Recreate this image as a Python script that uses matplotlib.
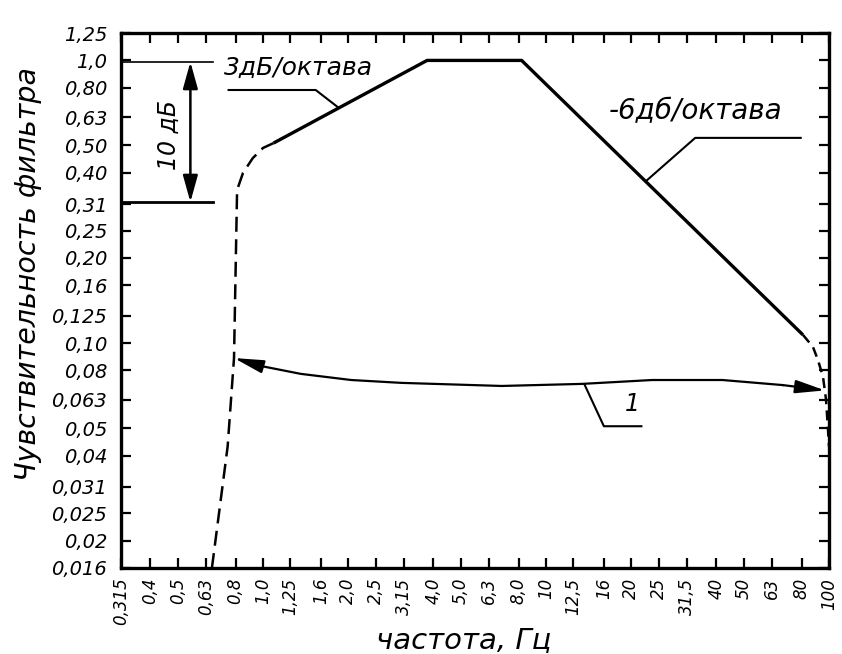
import matplotlib.pyplot as plt

plt.rcParams['font.family'] = ['DejaVu Sans']

# axis ticks (third-octave nominal values)
x_ticks = [0.315, 0.4, 0.5, 0.63, 0.8, 1.0, 1.25, 1.6, 2.0, 2.5, 3.15, 4.0, 5.0,
           6.3, 8.0, 10, 12.5, 16, 20, 25, 31.5, 40, 50, 63, 80, 100]
x_labels = ["0,315", "0,4", "0,5", "0,63", "0,8", "1,0", "1,25", "1,6", "2,0", "2,5",
            "3,15", "4,0", "5,0", "6,3", "8,0", "10", "12,5", "16", "20", "25",
            "31,5", "40", "50", "63", "80", "100"]
y_ticks = [1.25, 1.0, 0.80, 0.63, 0.50, 0.40, 0.31, 0.25, 0.20, 0.16, 0.125, 0.10,
           0.08, 0.063, 0.05, 0.04, 0.031, 0.025, 0.02, 0.016]
y_labels = ["1,25", "1,0", "0,80", "0,63", "0,50", "0,40", "0,31", "0,25", "0,20",
            "0,16", "0,125", "0,10", "0,08", "0,063", "0,05", "0,04", "0,031",
            "0,025", "0,02", "0,016"]

# filter sensitivity: solid part (3 dB/oct up, flat 4-8 Hz, -6 dB/oct down)
main_f = [1.09, 3.8, 8.2, 80.8]
main_s = [0.51, 1.0, 1.0, 0.107]

# dashed low-frequency cut-off
low_f = [0.66, 0.75, 0.79, 0.81, 0.85, 0.92, 1.0, 1.09]
low_s = [0.016, 0.043, 0.0885, 0.348, 0.40, 0.451, 0.49, 0.51]

# dashed high-frequency cut-off
high_f = [80.8, 87.7, 91.4, 95.2, 97.6, 99.2, 100]
high_s = [0.107, 0.097, 0.087, 0.076, 0.063, 0.049, 0.043]

# curve 1
c1_f = [0.79, 0.98, 1.36, 2.05, 3.08, 6.97, 13.4, 23.7, 42, 68.7, 96.8]
c1_s = [0.0885, 0.083, 0.0778, 0.074, 0.0723, 0.0705, 0.0717, 0.074, 0.074, 0.071, 0.068]

fig = plt.figure(figsize=(8.42, 6.54), dpi=100)
ax = fig.add_axes([0.1437, 0.1315, 0.8409, 0.818])

ax.set_xscale('log')
ax.set_yscale('log')
ax.set_xlim(0.315, 100)
ax.set_ylim(0.016, 1.25)

ax.plot(main_f, main_s, color='k', lw=2.4, solid_capstyle='butt')
ax.plot(low_f, low_s, color='k', lw=1.8, dashes=(6, 3))
ax.plot(high_f, high_s, color='k', lw=1.8, dashes=(4, 2.5))
ax.plot(c1_f[1:-1], c1_s[1:-1], color='k', lw=1.6)

# arrows at both ends of curve 1
arr = dict(arrowstyle='-|>,head_length=0.9,head_width=0.2', mutation_scale=20,
           color='k', lw=1.6, shrinkA=0, shrinkB=0)
ax.annotate('', xy=(c1_f[0], c1_s[0]), xytext=(c1_f[1], c1_s[1]), arrowprops=arr)
ax.annotate('', xy=(c1_f[-1], c1_s[-1]), xytext=(c1_f[-2], c1_s[-2]), arrowprops=arr)

ax.set_xticks(x_ticks)
ax.set_xticklabels(x_labels, rotation=90, fontsize=12, style='italic')
ax.set_yticks(y_ticks)
ax.set_yticklabels(y_labels, fontsize=14, style='italic')
ax.minorticks_off()
ax.tick_params(direction='in', length=7, width=1.6, top=True, right=True, pad=7)
ax.tick_params(axis='y', pad=10)
for s in ax.spines.values():
    s.set_linewidth(2.4)

# 10 dB span marker
ax.plot([0, 0.13], [0.946, 0.946], transform=ax.transAxes, color='k', lw=1.2, clip_on=False)
ax.plot([0, 0.13], [0.684, 0.684], transform=ax.transAxes, color='k', lw=2, clip_on=False)
ax.annotate('', xy=(0.098, 0.946), xytext=(0.098, 0.684), xycoords='axes fraction',
            arrowprops=dict(arrowstyle='<|-|>,head_length=0.9,head_width=0.25',
                            mutation_scale=18, color='k', lw=1.8, shrinkA=0, shrinkB=0))
ax.text(0.067, 0.809, '10 дБ', transform=ax.transAxes, rotation=90, fontsize=17,
        style='italic', ha='center', va='center')

# slope labels with leaders
ax.text(0.145, 0.935, '3дБ/октава', transform=ax.transAxes, fontsize=18,
        style='italic', ha='left', va='center')
ax.plot([0.152, 0.275, 0.306], [0.8935, 0.8935, 0.8617], transform=ax.transAxes,
        color='k', lw=1.5)
ax.text(0.689, 0.854, '-6дб/октава', transform=ax.transAxes, fontsize=20,
        style='italic', ha='left', va='center')
ax.plot([0.960, 0.811, 0.743], [0.804, 0.804, 0.725], transform=ax.transAxes,
        color='k', lw=1.5)

ax.text(0.722, 0.306, '1', transform=ax.transAxes, fontsize=17,
        style='italic', ha='center', va='center')
ax.plot([0.655, 0.682, 0.735], [0.342, 0.265, 0.265], transform=ax.transAxes,
        color='k', lw=1.5)

fig.text(0.033, 0.581, 'Чувствительность фильтра', rotation=90, fontsize=20.5,
         style='italic', ha='center', va='center')
fig.text(0.551, 0.022, 'частота, Гц', fontsize=21, style='italic',
         ha='center', va='center')

fig.savefig('out.png', dpi=100)
